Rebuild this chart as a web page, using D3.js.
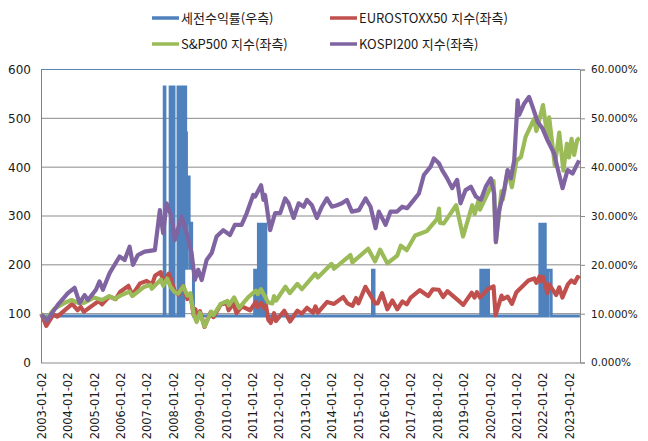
<!DOCTYPE html>
<html lang="ko">
<head>
<meta charset="UTF-8">
<title>세전수익률과 지수 추이</title>
<script src="https://d3js.org/d3.v7.min.js"></script>
<style>
  body { margin: 0; background: #fff; }
  svg text { font-family: "DejaVu Sans", sans-serif; fill: #1a1a1a; }
  .legend text { font-family: "Noto Sans CJK KR", sans-serif; font-size: 13px; }
</style>
</head>
<body>
<svg width="648" height="441"></svg>
<script>
// axis ticks
const leftTicks = [0, 100, 200, 300, 400, 500, 600];
const rightTicks = [0, 10, 20, 30, 40, 50, 60];
const dateLabels = ["2003-01-02", "2004-01-02", "2005-01-02", "2006-01-02", "2007-01-02",
  "2008-01-02", "2009-01-02", "2010-01-02", "2011-01-02", "2012-01-02", "2013-01-02",
  "2014-01-02", "2015-01-02", "2016-01-02", "2017-01-02", "2018-01-02", "2019-01-02",
  "2020-01-02", "2021-01-02", "2022-01-02", "2023-01-02"];

const seriesNames = ["세전수익률(우측)", "EUROSTOXX50 지수(좌측)", "S&P500 지수(좌측)", "KOSPI200 지수(좌측)"];

// 세전수익률 (%), right axis - value holds from each date until the next one
const pretaxReturn = [
  ["2003-01-02", 9.5],
  ["2007-08-30", 56.4], ["2007-09-08", 9.5],
  ["2007-11-20", 56.4], ["2007-11-30", 9.5], ["2007-12-18", 56.4], ["2008-01-12", 9.5],
  ["2008-03-08", 56.4], ["2008-03-30", 9.5], ["2008-04-02", 56.4], ["2008-04-26", 9.5],
  ["2008-04-29", 56.4], ["2008-05-23", 9.5], ["2008-05-26", 56.4], ["2008-06-21", 47],
  ["2008-07-02", 19.3], ["2008-07-09", 28.5], ["2008-07-27", 38], ["2008-08-08", 28.5],
  ["2008-08-22", 19.3], ["2008-08-25", 28.5], ["2008-09-12", 19.3], ["2008-10-07", 9.5],
  ["2011-02-01", 18.9], ["2011-02-20", 9.5],
  ["2011-03-25", 28.3], ["2011-04-20", 9.5], ["2011-04-23", 28.3], ["2011-05-15", 9.5],
  ["2011-05-18", 28.3], ["2011-06-10", 9.5], ["2011-06-13", 28.3], ["2011-07-05", 9.5],
  ["2015-07-20", 18.9], ["2015-08-10", 9.5],
  ["2019-08-27", 18.9], ["2019-09-22", 9.5], ["2019-09-25", 18.9], ["2019-10-18", 9.5],
  ["2019-10-21", 18.9], ["2019-11-15", 9.5], ["2019-11-18", 18.9], ["2019-12-11", 9.5],
  ["2021-11-21", 28.3], ["2021-12-20", 9.5], ["2021-12-23", 28.3], ["2022-01-08", 9.5],
  ["2022-01-11", 28.3], ["2022-02-03", 9.5],
  ["2022-03-12", 18.9], ["2022-04-26", 9.5],
  ["2023-05-28", 9.5]
];

// EUROSTOXX50, rebased to 100
const eurostoxx50 = [
  ["2003-01-02", 100], ["2003-03-12", 75], ["2003-06-17", 98], ["2003-08-11", 94], ["2003-12-31", 112],
  ["2004-03-05", 120], ["2004-05-17", 107], ["2004-06-30", 114], ["2004-08-12", 104], ["2004-12-31", 119],
  ["2005-03-07", 126], ["2005-04-20", 119], ["2005-07-29", 135], ["2005-10-27", 130], ["2005-12-30", 145],
  ["2006-04-21", 157], ["2006-06-13", 138], ["2006-09-29", 162], ["2006-12-29", 167], ["2007-03-14", 160],
  ["2007-04-27", 178], ["2007-07-13", 185], ["2007-08-16", 164], ["2007-10-31", 182], ["2007-11-26", 172],
  ["2008-01-22", 146], ["2008-03-17", 139], ["2008-05-19", 157], ["2008-07-15", 130], ["2008-08-29", 136],
  ["2008-10-10", 97], ["2008-11-04", 109], ["2008-11-21", 89], ["2009-01-06", 105], ["2009-03-09", 73],
  ["2009-06-01", 103], ["2009-07-10", 93], ["2009-10-19", 119], ["2010-01-11", 122], ["2010-02-05", 107],
  ["2010-04-15", 121], ["2010-05-25", 101], ["2010-08-06", 115], ["2010-11-30", 107], ["2011-02-18", 124],
  ["2011-03-16", 113], ["2011-05-02", 122], ["2011-06-16", 111], ["2011-07-07", 117], ["2011-08-09", 87],
  ["2011-09-12", 81], ["2011-10-27", 101], ["2011-11-23", 85], ["2012-03-16", 106], ["2012-06-04", 84],
  ["2012-09-14", 106], ["2012-11-15", 100], ["2013-01-25", 112], ["2013-04-18", 102], ["2013-05-22", 115],
  ["2013-06-24", 102], ["2013-10-31", 124], ["2014-02-03", 120], ["2014-06-10", 134], ["2014-08-08", 121],
  ["2014-10-16", 116], ["2014-12-05", 132], ["2015-01-06", 121], ["2015-04-13", 155], ["2015-07-07", 134],
  ["2015-08-24", 121], ["2015-09-29", 121], ["2015-11-30", 142], ["2016-02-11", 109], ["2016-04-20", 127],
  ["2016-06-27", 109], ["2016-09-07", 125], ["2016-11-04", 119], ["2016-12-30", 133], ["2017-05-05", 148],
  ["2017-08-29", 136], ["2017-11-01", 150], ["2018-01-23", 149], ["2018-03-23", 134], ["2018-05-21", 146],
  ["2018-10-26", 126], ["2018-12-27", 118], ["2019-04-23", 143], ["2019-05-31", 133], ["2019-07-04", 144],
  ["2019-08-15", 133], ["2019-11-29", 150], ["2020-02-19", 156], ["2020-03-18", 97], ["2020-06-08", 137],
  ["2020-06-26", 130], ["2020-09-01", 135], ["2020-10-30", 120], ["2020-12-31", 144], ["2021-06-15", 168],
  ["2021-09-06", 172], ["2021-10-04", 163], ["2021-11-17", 176], ["2021-12-01", 166], ["2022-01-05", 175],
  ["2022-03-07", 142], ["2022-03-29", 160], ["2022-07-05", 138], ["2022-08-16", 154], ["2022-09-29", 133],
  ["2022-12-13", 160], ["2023-01-31", 168], ["2023-03-16", 163], ["2023-04-28", 175], ["2023-05-25", 172]
];

// S&P500, rebased to 100
const sp500 = [
  ["2003-01-02", 100], ["2003-03-10", 88], ["2003-07-01", 110], ["2003-12-17", 124], ["2004-02-25", 128],
  ["2004-05-26", 122], ["2004-08-12", 122], ["2004-12-31", 133], ["2005-04-20", 128], ["2005-07-30", 136],
  ["2005-10-15", 130], ["2005-12-30", 137], ["2006-05-05", 145], ["2006-06-15", 136], ["2006-11-15", 154],
  ["2007-02-20", 159], ["2007-03-10", 151], ["2007-07-15", 170], ["2007-08-15", 157], ["2007-10-10", 172],
  ["2007-11-25", 155], ["2008-01-22", 144], ["2008-03-10", 141], ["2008-05-19", 156], ["2008-07-15", 137],
  ["2008-08-25", 142], ["2008-10-10", 99], ["2008-11-20", 83], ["2009-01-05", 102], ["2009-03-09", 74],
  ["2009-06-10", 104], ["2009-07-10", 97], ["2009-10-20", 120], ["2010-01-19", 126], ["2010-02-08", 117],
  ["2010-04-23", 133], ["2010-07-02", 112], ["2010-11-05", 134], ["2011-02-18", 147], ["2011-03-16", 140],
  ["2011-04-29", 150], ["2011-08-08", 123], ["2011-10-03", 121], ["2011-10-27", 136], ["2011-11-25", 127],
  ["2012-04-02", 155], ["2012-06-01", 142], ["2012-09-14", 161], ["2012-11-15", 150], ["2013-05-21", 182],
  ["2013-06-24", 174], ["2013-12-31", 202], ["2014-02-03", 192], ["2014-09-18", 220], ["2014-10-15", 205],
  ["2015-05-21", 233], ["2015-08-25", 207], ["2015-11-03", 231], ["2016-02-11", 203], ["2016-06-27", 219],
  ["2016-08-15", 239], ["2016-11-04", 230], ["2017-03-01", 260], ["2017-08-10", 269], ["2017-12-31", 294],
  ["2018-01-26", 315], ["2018-02-08", 286], ["2018-04-02", 285], ["2018-09-20", 322], ["2018-12-24", 258],
  ["2019-04-30", 322], ["2019-06-03", 304], ["2019-07-26", 332], ["2019-08-15", 313], ["2019-12-31", 356],
  ["2020-02-19", 372], ["2020-03-23", 246], ["2020-06-08", 351], ["2020-06-26", 334], ["2020-09-02", 393],
  ["2020-10-30", 359], ["2020-12-31", 413], ["2021-03-04", 421], ["2021-05-07", 462], ["2021-09-02", 499],
  ["2021-10-04", 474], ["2022-01-03", 527], ["2022-03-08", 460], ["2022-03-29", 502], ["2022-06-16", 403],
  ["2022-08-16", 471], ["2022-10-12", 393], ["2022-11-30", 448], ["2022-12-28", 420], ["2023-02-02", 458],
  ["2023-03-10", 425], ["2023-04-20", 455], ["2023-05-25", 460]
];

// KOSPI200, rebased to 100
const kospi200 = [
  ["2003-01-02", 98], ["2003-02-21", 91], ["2003-03-20", 86], ["2003-08-18", 118], ["2004-01-05", 142],
  ["2004-04-06", 153], ["2004-06-15", 122], ["2004-08-23", 138], ["2004-10-08", 128], ["2005-01-27", 149],
  ["2005-03-18", 166], ["2005-05-03", 149], ["2005-08-04", 183], ["2005-12-20", 217], ["2006-02-28", 210],
  ["2006-05-08", 237], ["2006-06-23", 200], ["2006-08-30", 220], ["2006-12-01", 227], ["2007-04-22", 230],
  ["2007-06-30", 312], ["2007-08-15", 265], ["2007-10-01", 326], ["2007-12-09", 299], ["2008-01-24", 251],
  ["2008-04-26", 299], ["2008-07-04", 265], ["2008-09-11", 224], ["2008-10-27", 169], ["2008-12-12", 190],
  ["2009-01-29", 169], ["2009-04-07", 210], ["2009-06-16", 224], ["2009-08-23", 258], ["2009-11-23", 271],
  ["2010-02-24", 261], ["2010-05-03", 282], ["2010-08-04", 282], ["2010-10-12", 305], ["2011-01-12", 343],
  ["2011-02-08", 340], ["2011-05-01", 363], ["2011-06-03", 333], ["2011-06-25", 343], ["2011-09-03", 271],
  ["2011-11-11", 306], ["2012-01-20", 306], ["2012-03-29", 336], ["2012-05-16", 326], ["2012-07-24", 296],
  ["2012-10-01", 326], ["2012-12-09", 319], ["2013-01-24", 333], ["2013-04-03", 322], ["2013-06-11", 296],
  ["2013-08-19", 319], ["2013-10-27", 336], ["2014-01-05", 319], ["2014-03-15", 322], ["2014-05-23", 326],
  ["2014-07-31", 333], ["2014-10-08", 309], ["2015-01-13", 312], ["2015-04-15", 336], ["2015-06-23", 319],
  ["2015-09-01", 275], ["2015-10-16", 309], ["2016-01-17", 282], ["2016-03-26", 309], ["2016-06-25", 309],
  ["2016-09-03", 319], ["2016-11-11", 316], ["2017-02-12", 333], ["2017-04-22", 346], ["2017-06-30", 384],
  ["2017-10-01", 401], ["2017-11-16", 418], ["2018-01-24", 408], ["2018-03-10", 394], ["2018-05-18", 377],
  ["2018-07-26", 357], ["2018-10-03", 374], ["2018-11-19", 326], ["2019-01-28", 353], ["2019-04-11", 360],
  ["2019-06-19", 340], ["2019-08-27", 333], ["2019-11-04", 360], ["2020-01-12", 377], ["2020-02-27", 346],
  ["2020-03-22", 247], ["2020-05-06", 312], ["2020-07-15", 353], ["2020-08-31", 394], ["2020-10-16", 377],
  ["2020-12-01", 414], ["2021-01-17", 537], ["2021-02-08", 507], ["2021-04-17", 530], ["2021-06-25", 544],
  ["2021-08-11", 524], ["2021-10-20", 493], ["2021-12-28", 479], ["2022-03-07", 455], ["2022-06-06", 428],
  ["2022-07-23", 398], ["2022-10-01", 357], ["2022-12-09", 394], ["2023-02-16", 387], ["2023-05-18", 414]
];

const colors = ["#4f81bd", "#c0504d", "#9bbb59", "#8064a2"];

const parse = d3.timeParse("%Y-%m-%d");
const fmt = d3.timeFormat("%Y-%m-%d");
const toPts = arr => arr.map(([d, v]) => ({ date: parse(d), v: v }));

const svg = d3.select("svg");
const plot = { left: 41, right: 580, top: 69.5, bottom: 362.5 };

const x = d3.scaleTime()
  .domain([parse("2003-01-02"), parse("2023-01-02")])
  .range([41.3, 569.3]);
const yL = d3.scaleLinear().domain([0, 600]).range([plot.bottom, plot.top]);
const yR = d3.scaleLinear().domain([0, 60]).range([plot.bottom, plot.top]);

// gridlines
svg.append("g").selectAll("line")
  .data(leftTicks.filter(t => t > 0))
  .join("line")
  .attr("x1", plot.left).attr("x2", plot.right)
  .attr("y1", d => yL(d)).attr("y2", d => yL(d))
  .attr("stroke", d => d === 600 ? "#5f87b5" : "#8a8a8a")
  .attr("stroke-width", 1);

// left axis
const gL = svg.append("g")
  .attr("transform", `translate(${plot.left},0)`)
  .call(d3.axisLeft(yL).tickValues(leftTicks).tickSize(0).tickPadding(10));
gL.select(".domain").attr("stroke", "#5f87b5");
gL.selectAll("text").attr("font-size", 12);

// right axis
const gR = svg.append("g")
  .attr("transform", `translate(${plot.right},0)`)
  .call(d3.axisRight(yR).tickValues(rightTicks).tickSize(5).tickPadding(6)
    .tickFormat(d => d.toFixed(3) + "%"));
gR.select(".domain").attr("stroke", "#8a8a8a");
gR.selectAll(".tick line").attr("stroke", "#8a8a8a");
gR.selectAll("text").attr("font-size", 10.5);

// bottom axis
const gB = svg.append("g")
  .attr("transform", `translate(0,${plot.bottom})`)
  .call(d3.axisBottom(x).tickValues(dateLabels.map(parse)).tickFormat(fmt).tickSize(0));
gB.select(".domain").attr("stroke", "#8a8a8a").attr("d", `M${plot.left},0.5H${plot.right}`);
gB.selectAll("text")
  .attr("font-size", 11.5)
  .attr("transform", "rotate(-90)")
  .attr("x", -10).attr("y", 0).attr("dy", "0.35em")
  .style("text-anchor", "end");

// series
const lineL = d3.line().x(d => x(d.date)).y(d => yL(d.v));
const lineR = d3.line().x(d => x(d.date)).y(d => yR(d.v)).curve(d3.curveStepAfter);

svg.append("path").datum(toPts(pretaxReturn))
  .attr("d", lineR).attr("fill", "none")
  .attr("stroke", colors[0]).attr("stroke-width", 3);

[eurostoxx50, sp500, kospi200].forEach((s, i) => {
  svg.append("path").datum(toPts(s))
    .attr("d", lineL).attr("fill", "none")
    .attr("stroke", colors[i + 1]).attr("stroke-width", 4.2)
    .attr("stroke-linejoin", "round");
});

// legend
const legendPos = [[152, 18], [330, 18], [152, 44], [330, 44]];
const lg = svg.append("g").attr("class", "legend");
seriesNames.forEach((name, i) => {
  const [lx, ly] = legendPos[i];
  lg.append("line").attr("x1", lx).attr("x2", lx + 27).attr("y1", ly).attr("y2", ly)
    .attr("stroke", colors[i]).attr("stroke-width", 3.5);
  lg.append("text").attr("x", lx + 29).attr("y", ly).attr("dy", "0.35em").text(name);
});
</script>
</body>
</html>
